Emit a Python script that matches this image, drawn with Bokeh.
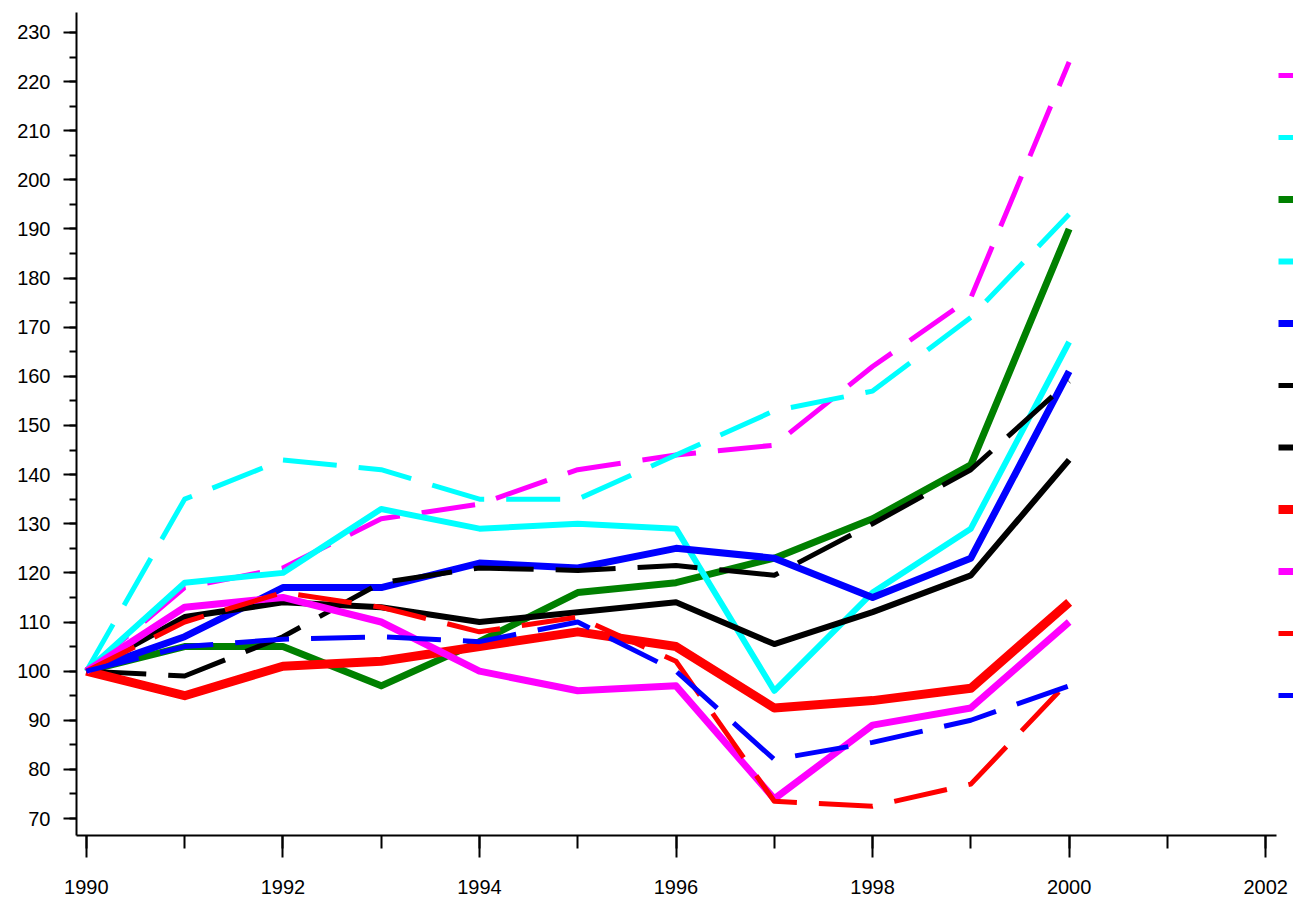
from bokeh.plotting import figure
from bokeh.models import SingleIntervalTicker, Legend, LegendItem, Range1d
from bokeh.core.properties import value
from bokeh.embed import file_html
from bokeh.resources import INLINE

years = [1990, 1991, 1992, 1993, 1994, 1995, 1996, 1997, 1998, 1999, 2000]

magenta_dash = [100, 117, 121, 131, 134, 141, 144, 146, 162, 176, 224]
cyan_dash = [100, 135, 143, 141, 135, 135, 144, 153, 157, 172, 193]
green_solid = [100, 105, 105, 97, 106, 116, 118, 123, 131, 142, 190]
cyan_solid = [100, 118, 120, 133, 129, 130, 129, 96, 116, 129, 167]
blue_solid = [100, 107, 117, 117, 122, 121, 125, 123, 115, 123, 161]
black_dash = [100, 99, 107, 118, 121, 120.5, 121.5, 119.5, 130, 141, 159]
black_solid = [100, 111, 114, 113, 110, 112, 114, 105.5, 112, 119.5, 143]
red_solid = [100, 95, 101, 102, 105, 108, 105, 92.5, 94, 96.5, 114]
magenta_solid = [100, 113, 115, 110, 100, 96, 97, 74, 89, 92.5, 110]
red_dash = [100, 110, 116, 113, 108, 111, 102, 73.5, 72.5, 77, 98]
blue_dash = [100, 105, 106.5, 107, 106, 110, 100, 82, 85.5, 90, 97]

series = [
    (magenta_dash, "#ff00ff", 5, "54 22"),
    (cyan_dash, "#00ffff", 5, "54 22"),
    (green_solid, "#008000", 7, "solid"),
    (cyan_solid, "#00ffff", 6, "solid"),
    (blue_solid, "#0000ff", 7, "solid"),
    (black_dash, "#000000", 5, "60 22"),
    (black_solid, "#000000", 6, "solid"),
    (red_solid, "#ff0000", 9, "solid"),
    (magenta_solid, "#ff00ff", 7, "solid"),
    (red_dash, "#ff0000", 5, "54 22"),
    (blue_dash, "#0000ff", 5, "54 22"),
]

p = figure(width=1293, height=903, output_backend="svg", toolbar_location=None,
           x_range=Range1d(1989.9, 2002.283), y_range=Range1d(66.54, 234.07),
           min_border_left=76, min_border_right=0, min_border_top=12, min_border_bottom=68)
p.outline_line_color = None
p.xgrid.visible = False
p.ygrid.visible = False

items = []
for vals, col, w, dash in series:
    r = p.line(years, vals, line_color=col, line_width=w, line_dash=dash, line_join="round")
    items.append(LegendItem(label=value(" "), renderers=[r]))

legend = Legend(items=items, location=(1202, 130), padding=0, margin=0,
                glyph_width=30, glyph_height=20, label_height=20,
                label_standoff=0, spacing=42,
                background_fill_alpha=0, border_line_color=None,
                label_text_font_size="1px")
p.add_layout(legend, "center")

font = "Liberation Sans"
p.xaxis.ticker = SingleIntervalTicker(interval=2, num_minor_ticks=2)
p.yaxis.ticker = SingleIntervalTicker(interval=10, num_minor_ticks=2)
p.xaxis.bounds = (1989.9, 2002.11)
for ax in (p.xaxis, p.yaxis):
    ax.axis_line_width = 2
    ax.major_tick_line_width = 2
    ax.minor_tick_line_width = 2
    ax.major_tick_in = 0
    ax.minor_tick_in = 0
    ax.major_label_text_font = font
    ax.major_label_text_font_size = "20px"
    ax.major_label_text_line_height = 1.0
    ax.major_label_text_color = "#000000"
p.xaxis.major_tick_out = 22
p.xaxis.minor_tick_out = 13
p.xaxis.major_label_standoff = 22
p.yaxis.major_tick_out = 13
p.yaxis.minor_tick_out = 7
p.yaxis.major_label_standoff = 13

open("out.html", "w").write(file_html(p, INLINE))
